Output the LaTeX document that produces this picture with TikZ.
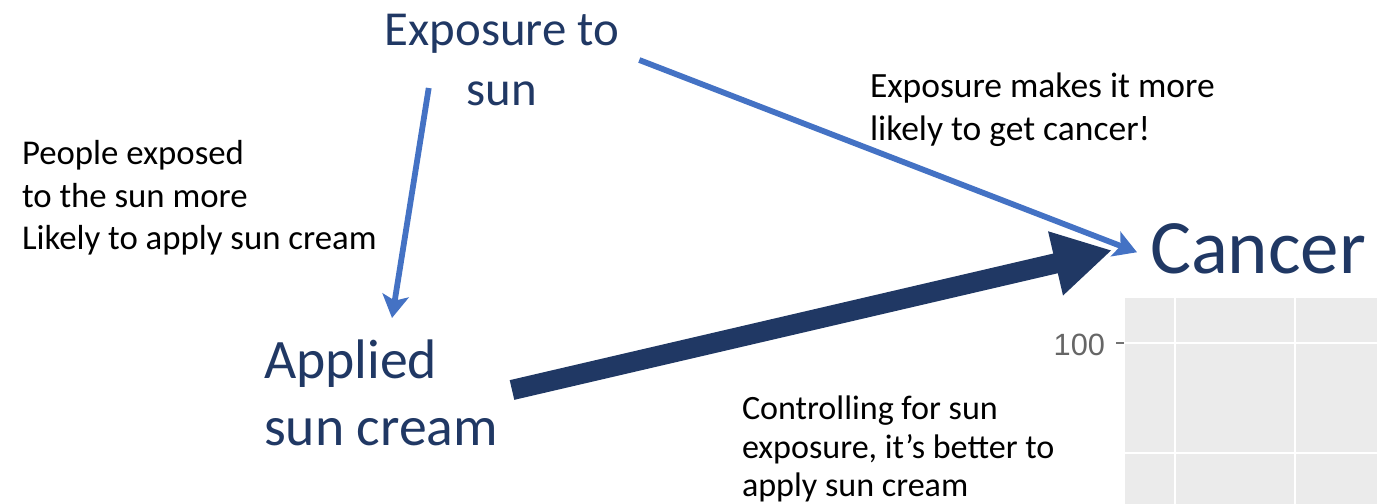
\documentclass[tikz,border=0pt]{standalone}
\usepackage{fontspec}
\setmainfont{Carlito}
\newfontfamily\plotfont{Liberation Sans}
\usetikzlibrary{arrows.meta}
\definecolor{navy}{RGB}{32,56,100}
\definecolor{skyblue}{RGB}{68,114,196}
\definecolor{panelgray}{RGB}{235,235,235}
\begin{document}
\begin{tikzpicture}[x=0.02cm,y=-0.02cm,every node/.style={inner sep=0pt,outer sep=0pt},
  var/.style={text=navy},
  note/.style={anchor=north west,align=left,font=\fontsize{19.8}{24.4}\selectfont},
  link/.style={skyblue,line width=3.3pt,-{Stealth[length=13pt,width=15pt,inset=3pt]}}]
\useasboundingbox (0,0) rectangle (1377,504);
% variables
\node[var,font=\fontsize{27.8}{34}\selectfont,align=center,anchor=north] (expo) at (502,14) {Exposure to\\sun};
\node[var,font=\fontsize{31.7}{38}\selectfont,align=left,anchor=north west] (cream) at (264,340) {Applied\\sun cream};
\node[var,font=\fontsize{43.8}{52}\selectfont,anchor=north west] (cancer) at (1150,224) {Cancer};
% explanations
\node[note] (why) at (22,140) {People exposed\\to the sun more\\Likely to apply sun cream};
\node[note,font=\fontsize{20.2}{24.6}\selectfont] (risk) at (870,73) {Exposure makes it more\\likely to get cancer!};
\node[note,font=\fontsize{19.4}{22}\selectfont] (effect) at (742,396) {Controlling for sun\\exposure, it’s better to\\apply sun cream};
% plot corner
\fill[panelgray] (1125,298) rectangle (1377,504);
\foreach \gx in {1175,1295} {\draw[white,line width=1.2pt] (\gx,298) -- (\gx,504);}
\foreach \gy in {343,453} {\draw[white,line width=1.2pt] (1125,\gy) -- (1377,\gy);}
\draw[black!55,line width=0.9pt] (1116,343) -- (1124,343);
\node[anchor=east,text=black!60,font=\plotfont\fontsize{17.5}{20}\selectfont] (ytick) at (1105,345) {100};
% arrows
\draw[link] ([shift={(20,46)}]expo.north east) -- ([shift={(-13,3)}]cancer.west);
\draw[link] ([shift={(44,74)}]expo.north west) -- ([shift={(128,-22)}]cream.north west);
\draw[navy,line width=11.5pt,-{Triangle[length=33pt,width=35pt]}] ([shift={(248,50)}]cream.north west) -- ([shift={(-38,1)}]cancer.west);
\end{tikzpicture}
\end{document}
